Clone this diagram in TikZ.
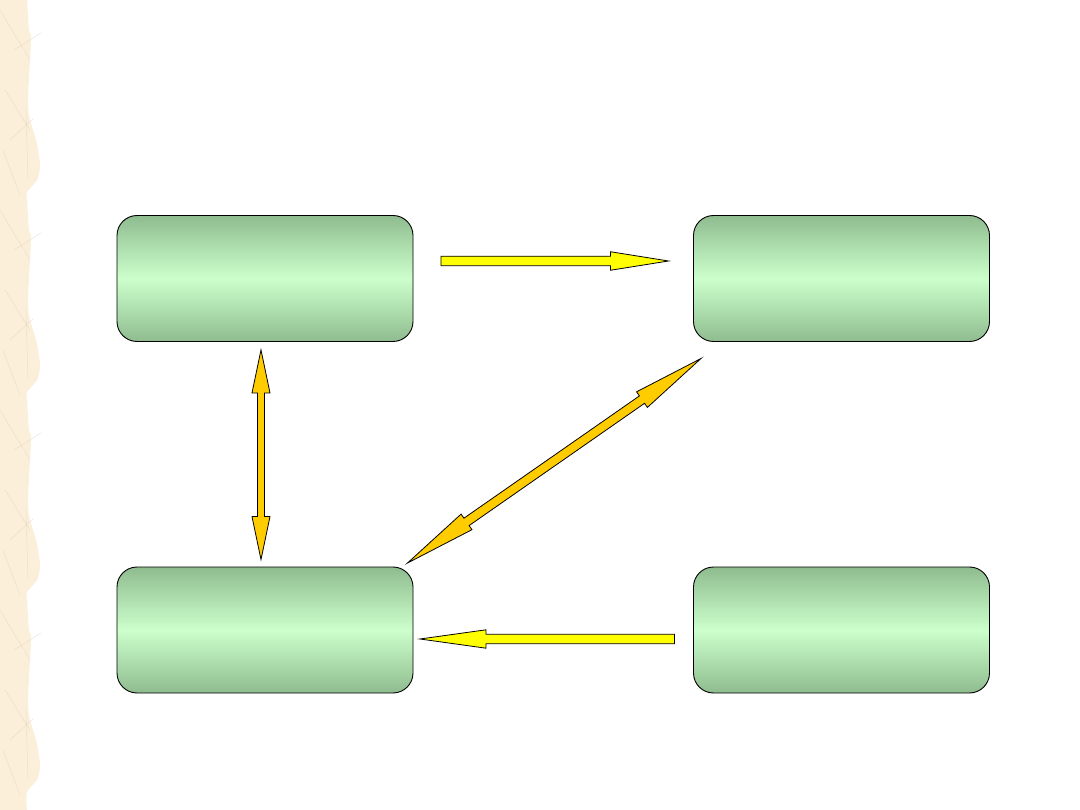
\documentclass[tikz,border=0pt]{standalone}
\usetikzlibrary{calc}
\definecolor{boxdark}{RGB}{143,188,143}
\definecolor{boxlight}{RGB}{204,255,204}
\definecolor{arryellow}{RGB}{255,255,0}
\definecolor{arrgold}{RGB}{255,204,0}
\definecolor{paper}{RGB}{251,239,218}
\definecolor{fiber}{RGB}{215,200,185}
\tikzset{
  greenbox/.style={draw=black, line width=0.9pt, rounded corners=20pt,
    top color=boxdark, bottom color=boxdark, middle color=boxlight,
    minimum width=296pt, minimum height=126pt, inner sep=0pt},
  blockarrow/.style={draw=black, line width=0.8pt, line join=miter},
  fiberline/.style={draw=fiber, line width=0.5pt, opacity=0.45}
}
\newcommand{\singlearrow}[6]{% style, S, T, shaft half, head half, head length
  \draw[blockarrow,#1]
    ($(#2)!#4!90:(#3)$) -- ($($(#3)!#6!(#2)$)!#4!-90:(#2)$)
    -- ($($(#3)!#6!(#2)$)!#5!-90:(#2)$) -- (#3)
    -- ($($(#3)!#6!(#2)$)!#5!90:(#2)$) -- ($($(#3)!#6!(#2)$)!#4!90:(#2)$)
    -- ($(#2)!#4!-90:(#3)$) -- cycle;}
\newcommand{\doublearrow}[6]{%
  \draw[blockarrow,#1]
    (#2) -- ($($(#2)!#6!(#3)$)!#5!90:(#3)$) -- ($($(#2)!#6!(#3)$)!#4!90:(#3)$)
    -- ($($(#3)!#6!(#2)$)!#4!-90:(#2)$) -- ($($(#3)!#6!(#2)$)!#5!-90:(#2)$)
    -- (#3)
    -- ($($(#3)!#6!(#2)$)!#5!90:(#2)$) -- ($($(#3)!#6!(#2)$)!#4!90:(#2)$)
    -- ($($(#2)!#6!(#3)$)!#4!-90:(#3)$) -- ($($(#2)!#6!(#3)$)!#5!-90:(#3)$)
    -- cycle;}
\begin{document}
\begin{tikzpicture}[x=1pt,y=-1pt]
\useasboundingbox (0,0) rectangle (1080,810);
\fill[white] (0,0) rectangle (1080,810);
% decorative paper strip
\fill[paper] (0,0) -- plot[smooth] coordinates {
 (27,0) (29,30) (31,40) (28,100) (30,120) (36,140) (40,165) (37,180) (27,192)
 (27,200) (29,230) (31,240) (28,300) (30,320) (36,340) (40,365) (37,380) (27,392)
 (27,400) (29,430) (31,440) (28,500) (30,520) (36,540) (40,565) (37,580) (27,592)
 (27,600) (29,630) (31,640) (28,700) (30,720) (36,740) (40,765) (37,780) (27,792)
 (27,810)} -- (0,810) -- cycle;
\foreach \y in {0,200,400,600}{
  \draw[fiberline] (0,\y+10) -- (30,\y+60);
  \draw[fiberline] (14,\y+50) -- (41,\y+33);
  \draw[fiberline] (5,\y+90) -- (30,\y+130);
  \draw[fiberline] (10,\y+140) -- (33,\y+119);
  \draw[fiberline] (3,\y+150) -- (20,\y+195);
  \draw[fiberline] (26,\y+110) -- (28,\y+180);
}
% boxes
\node[greenbox] (tl) at (265,278.5) {};
\node[greenbox] (tr) at (841.5,278.5) {};
\node[greenbox] (bl) at (265,630) {};
\node[greenbox] (br) at (841.5,630) {};
% arrow end points
\coordinate (a1s) at ($(tl.east)+(27.5,-17.5)$);
\coordinate (a1t) at ($(tr.west)+(-24.5,-17.5)$);
\coordinate (a2s) at ($(br.west)+(-18.5,9)$);
\coordinate (a2t) at ($(bl.east)+(6.5,9)$);
\coordinate (a3s) at ($(tl.south)+(-4,8)$);
\coordinate (a3t) at ($(bl.north)+(-4,-7)$);
\coordinate (a4s) at ($(bl.north east)+(-6,-3.5)$);
\coordinate (a4t) at ($(tr.south west)+(8,16.5)$);
% arrows
\singlearrow{fill=arryellow}{a1s}{a1t}{4.75pt}{9.25pt}{58pt}
\singlearrow{fill=arryellow}{a2s}{a2t}{4.7pt}{9.2pt}{66pt}
\doublearrow{fill=arrgold}{a3s}{a3t}{3.5pt}{9pt}{43pt}
\doublearrow{fill=arrgold}{a4s}{a4t}{4.5pt}{9.5pt}{72pt}
\end{tikzpicture}
\end{document}
